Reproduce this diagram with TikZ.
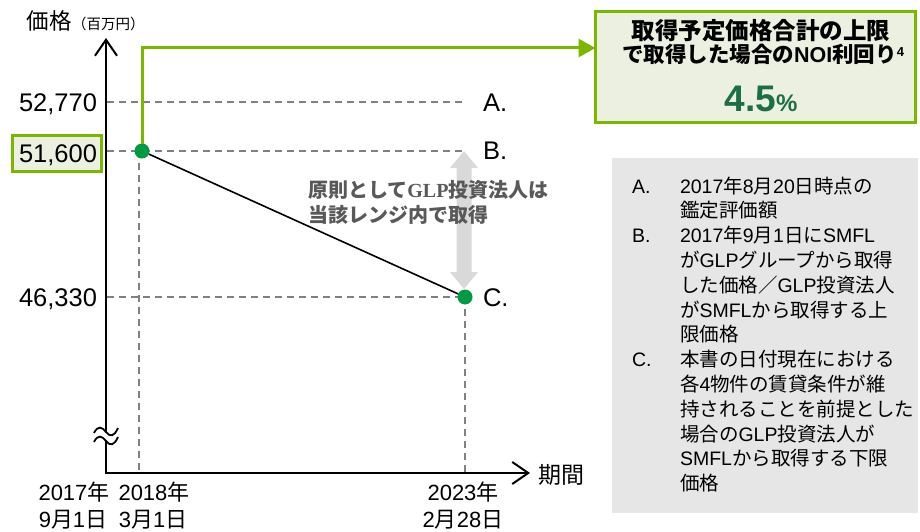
\documentclass[tikz,border=0pt]{standalone}
\usepackage{fontspec}
\setmainfont{Liberation Sans}
\newfontfamily\cjkfam{Noto Sans CJK JP}
\newfontfamily\latinfam{Liberation Sans}
\newfontfamily\seriffam{Liberation Serif}
\usetikzlibrary{arrows.meta}
\XeTeXinterchartokenstate=1
\chardef\cjkcls=7
\makeatletter
\count@="2E80
\loop \XeTeXcharclass\count@=\cjkcls \ifnum\count@<"9FFF \advance\count@\@ne \repeat
\count@="FF00
\loop \XeTeXcharclass\count@=\cjkcls \ifnum\count@<"FFEF \advance\count@\@ne \repeat
\makeatother
\def\mylatin{\latinfam}
\XeTeXinterchartoks 0 \cjkcls = {\cjkfam}
\XeTeXinterchartoks 4095 \cjkcls = {\cjkfam}
\XeTeXinterchartoks \cjkcls 0 = {\mylatin}
\XeTeXinterchartoks 4095 0 = {\mylatin}
\definecolor{lgreen}{RGB}{122,184,0}
\definecolor{ptgreen}{RGB}{0,153,68}
\definecolor{boxfill}{RGB}{236,240,225}
\definecolor{darkgreen}{RGB}{28,110,68}
\definecolor{dashgray}{RGB}{128,128,128}
\definecolor{arrowgray}{RGB}{217,217,217}
\definecolor{txtgray}{RGB}{89,89,89}
\definecolor{leggray}{RGB}{230,230,230}
\begin{document}
\begin{tikzpicture}[x=1pt,y=-1pt,
  every node/.style={inner sep=0pt, outer sep=0pt},
  axisline/.style={line width=2pt, draw=black, line join=miter},
  gridln/.style={line width=1.8pt, draw=dashgray, dash pattern=on 7pt off 5pt},
  ticklbl/.style={font=\fontsize{25.5}{30}\selectfont, anchor=base east},
  abclbl/.style={font=\fontsize{25.5}{30}\selectfont, anchor=base west},
  datelbl/.style={font=\fontsize{22}{26}\selectfont, anchor=base},
  legtxt/.style={font=\fontsize{19.5}{24}\selectfont, anchor=base west},
  gdot/.style={circle, fill=ptgreen, minimum size=15pt},
  greenframe/.style={draw=lgreen, line width=3pt, fill=boxfill},
  barb/.style={-{Straight Barb[length=16pt, width=22pt]}},
]
\useasboundingbox (0,0) rectangle (920,532);

% legend box
\fill[leggray] (612,158) rectangle (918,513);

% coordinates
\coordinate (O) at (106,473);
\coordinate (ytop) at (106,38);
\coordinate (xend) at (530,473);
\coordinate (gy) at (0,48);

% grid lines
\draw[gridln] (107,102) -- (465,102);
\draw[gridln] (107,151) -- (465,151);
\draw[gridln] (107,297) -- (465,297);
\draw[gridln] (139,151) -- (139,472);
\draw[gridln] (465,297) -- (465,472);

% axes with break
\draw[axisline, barb] (106,432) -- (ytop);
\draw[axisline, barb] (106,441) -- (O) -- (xend);
\draw[line width=1.8pt] (94,433) .. controls (98,425) and (102,427) .. (106,432) .. controls (110,437) and (114,437) .. (118,428);
\draw[line width=1.8pt] (94,442) .. controls (98,434) and (102,436) .. (106,441) .. controls (110,446) and (114,446) .. (118,437);

% gray range arrow
\fill[arrowgray] (464,151) -- (478,168) -- (471.5,168) -- (471.5,272) -- (478,272) -- (464,289) -- (450,272) -- (456.5,272) -- (456.5,168) -- (450,168) -- cycle;

% points and line
\node[gdot] (p1) at (142,151) {};
\node[gdot] (p2) at (465,297) {};
\draw[line width=1.6pt] (p1) -- (p2);

% green summary box and connector
\node[greenframe, minimum width=320pt, minimum height=111pt] (gbox) at (755.5,67) {};
\draw[lgreen, line width=3pt, -{Triangle[length=17pt,width=18pt]}] (p1.north) -- (p1 |- gy) -- (gbox.west |- gy);
\node[font=\bfseries\fontsize{23.5}{28}\selectfont, anchor=base] (g1) at (761,40) {取得予定価格合計の上限};
\node[font=\bfseries\fontsize{21.5}{28}\selectfont, anchor=base] (g2) at (763,63) {で取得した場合のNOI利回り\raisebox{6pt}{\fontsize{13}{14}\selectfont 4}};
\node[font=\bfseries\fontsize{37}{40}\selectfont, text=darkgreen, anchor=base] (g3) at (761,112) {4.5{\fontsize{24}{28}\selectfont\%}};

% y label
\node[anchor=base west] (ylab) at (27,30) {\fontsize{22.5}{26}\selectfont 価格\fontsize{14.5}{17}\selectfont （百万円）};

% tick labels
\node[ticklbl] (t1) at (97,111) {52,770};
\node[greenframe, minimum width=89pt, minimum height=36pt] (b51) at (57,153.5) {};
\node[ticklbl] (t2) at (97,162) {51,600};
\node[ticklbl] (t3) at (97,306) {46,330};

% A B C
\node[abclbl] (la) at (483,112) {A.};
\node[abclbl] (lb) at (483,159) {B.};
\node[abclbl] (lc) at (483,306) {C.};

% gray text
\node[anchor=base west, text=txtgray, font=\bfseries\fontsize{20}{24}\selectfont] (r1) at (308,197.5) {\let\mylatin\seriffam 原則としてGLP投資法人は};
\node[anchor=base west, text=txtgray, font=\bfseries\fontsize{20}{24}\selectfont] (r2) at (308,222.5) {当該レンジ内で取得};

% x label
\node[anchor=base west, font=\fontsize{23}{26}\selectfont] (xlab) at (538,483) {期間};

% dates
\node[datelbl] (d1) at (74,500) {2017年};
\node[datelbl] (d2) at (73,527.5) {9月1日};
\node[datelbl] (d3) at (154,500) {2018年};
\node[datelbl] (d4) at (153,527.5) {3月1日};
\node[datelbl] (d5) at (463,500) {2023年};
\node[datelbl] (d6) at (463,527.5) {2月28日};

% legend
\node[legtxt] (ka) at (632,193) {A.};
\node[legtxt] (kb) at (632,242.6) {B.};
\node[legtxt] (kc) at (632,366.6) {C.};
\foreach \t [count=\i from 0] in {2017年8月20日時点の,鑑定評価額,2017年9月1日にSMFL,がGLPグループから取得,した価格／GLP投資法人,がSMFLから取得する上,限価格,本書の日付現在における,各4物件の賃貸条件が維,持されることを前提とした,場合のGLP投資法人が,SMFLから取得する下限,価格}
  \node[legtxt] (lg\i) at (680,{193+24.8*\i}) {\t};
\end{tikzpicture}
\end{document}
